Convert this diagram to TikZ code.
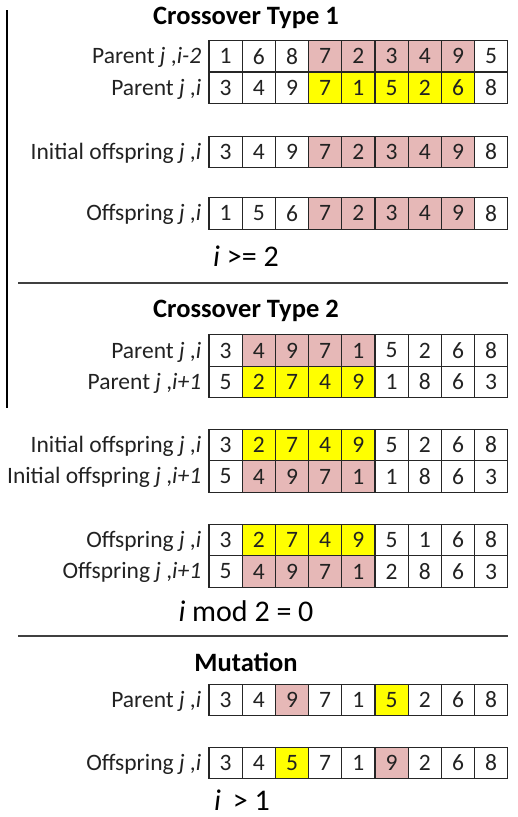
\documentclass[tikz,border=0pt]{standalone}
\usepackage{fontspec}
\setmainfont{Carlito}
\definecolor{pk}{HTML}{E6B8B7}
\definecolor{yl}{HTML}{FFFF00}
\definecolor{ink}{HTML}{222222}
% one chromosome row: name, y centre, label, list of value/fill
\newcommand\generow[4]{%
  \foreach \v/\c [count=\k] in {#4} {
    \node[cell, fill=\c] (#1-\k) at ({209+33.2*(\k-0.5)}, #2) {\v};
  }
  \node[rowlab] (#1-lab) at ([xshift=-7pt]#1-1.base west) {#3};
}
\begin{document}
\begin{tikzpicture}[x=1pt,y=-1pt,
  cell/.style={draw=black!85, line width=1.1pt, minimum width=33.2pt,
    minimum height=31.5pt, inner sep=0pt, text=ink,
    font=\fontsize{23.5}{23.5}\selectfont},
  rowlab/.style={anchor=base east, inner sep=0pt, text=ink,
    font=\fontsize{23.5}{23.5}\selectfont},
  heading/.style={font=\bfseries\fontsize{26.5}{26.5}\selectfont},
  cond/.style={anchor=base, inner sep=0pt, font=\fontsize{30}{30}\selectfont},
  rule/.style={line width=1.3pt, draw=black!75}]
\useasboundingbox (0,0) rectangle (517,817);

% left margin bar
\coordinate (v1) at (7,10);
\coordinate (v2) at (7,408);
\draw[line width=1.1pt] (v1) -- (v2);

% ---- Crossover type 1
\node[heading] (t1) at (246,18) {Crossover Type 1};
\generow{a1}{56.25}{Parent \textit{j} ,\textit{i-2}}{1/white,6/white,8/white,7/pk,2/pk,3/pk,4/pk,9/pk,5/white}
\generow{a2}{87.75}{Parent \textit{j} ,\textit{i}}{3/white,4/white,9/white,7/yl,1/yl,5/yl,2/yl,6/yl,8/white}
\generow{a3}{151.8}{Initial offspring \textit{j} ,\textit{i}}{3/white,4/white,9/white,7/pk,2/pk,3/pk,4/pk,9/pk,8/white}
\generow{a4}{213.3}{Offspring \textit{j} ,\textit{i}}{1/white,5/white,6/white,7/pk,2/pk,3/pk,4/pk,9/pk,8/white}
\node[cond] (c1) at (246,266) {\textit{i} >= 2};

\coordinate (r1a) at (18,283);
\coordinate (r1b) at (508,283);
\draw[rule] (r1a) -- (r1b);

% ---- Crossover type 2
\node[heading] (t2) at (246,311) {Crossover Type 2};
\generow{b1}{350.5}{Parent \textit{j} ,\textit{i}}{3/white,4/pk,9/pk,7/pk,1/pk,5/white,2/white,6/white,8/white}
\generow{b2}{382}{Parent \textit{j} ,\textit{i+1}}{5/white,2/yl,7/yl,4/yl,9/yl,1/white,8/white,6/white,3/white}
\generow{b3}{445}{Initial offspring \textit{j} ,\textit{i}}{3/white,2/yl,7/yl,4/yl,9/yl,5/white,2/white,6/white,8/white}
\generow{b4}{476.5}{Initial offspring \textit{j} ,\textit{i+1}}{5/white,4/pk,9/pk,7/pk,1/pk,1/white,8/white,6/white,3/white}
\generow{b5}{540}{Offspring \textit{j} ,\textit{i}}{3/white,2/yl,7/yl,4/yl,9/yl,5/white,1/white,6/white,8/white}
\generow{b6}{571.5}{Offspring \textit{j} ,\textit{i+1}}{5/white,4/pk,9/pk,7/pk,1/pk,2/white,8/white,6/white,3/white}
\node[cond] (c2) at (246,621) {\textit{i} mod 2 = 0};

\coordinate (r2a) at (18,636);
\coordinate (r2b) at (508,636);
\draw[rule] (r2a) -- (r2b);

% ---- Mutation
\node[heading] (t3) at (246,662) {Mutation};
\generow{m1}{700}{Parent \textit{j} ,\textit{i}}{3/white,4/white,9/pk,7/white,1/white,5/yl,2/white,6/white,8/white}
\generow{m2}{763}{Offspring \textit{j} ,\textit{i}}{3/white,4/white,5/yl,7/white,1/white,9/pk,2/white,6/white,8/white}
\node[cond] (c3) at (242,810) {\textit{i}\, > 1};
\end{tikzpicture}
\end{document}
